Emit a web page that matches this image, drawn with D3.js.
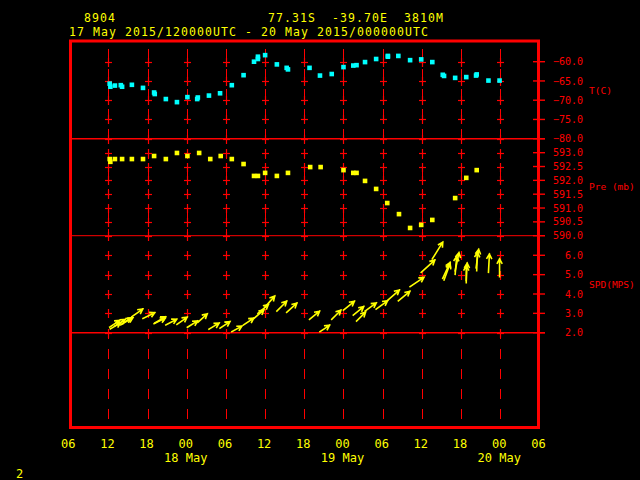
<!DOCTYPE html>
<html><head><meta charset="utf-8">
<script src="https://cdn.jsdelivr.net/npm/d3@7"></script>
<style>html,body{margin:0;padding:0;background:#000;} svg{display:block;}</style>
</head><body>
<svg id="c" width="640" height="480"></svg>
<script>
// ---------- data ----------
const startTime = "2015-05-17T06:00:00Z";
const endTime   = "2015-05-20T06:00:00Z";
const headerStation = "8904";
const headerPosition = "77.31S  -39.70E  3810M";
const headerPeriod = "17 May 2015/120000UTC - 20 May 2015/000000UTC";
const pageNumber = "2";

// hours after 17 May 2015 06 UTC
const tempHours  = [6.2,6.3,7.0,7.9,8.1,9.6,11.3,13.0,13.1,14.8,16.5,18.1,19.6,19.7,21.4,23.1,24.9,26.7,28.3,28.9,28.9,30.0,31.8,33.3,33.5,36.8,38.4,40.2,42.0,43.5,44.0,45.3,47.0,48.8,48.8,50.4,52.2,53.9,55.6,57.2,57.4,59.1,60.8,62.3,62.4,64.2,65.9];
const tempValues = [-65.7,-66.5,-66.2,-66.1,-66.5,-66.0,-66.8,-68.0,-68.4,-69.7,-70.5,-69.2,-69.7,-69.3,-68.8,-68.2,-66.1,-63.5,-60.0,-58.7,-59.3,-58.3,-60.7,-61.6,-62.0,-61.6,-63.6,-63.2,-61.4,-61.0,-60.9,-60.1,-59.3,-58.5,-58.7,-58.5,-59.6,-59.4,-60.1,-63.4,-63.7,-64.2,-64.0,-63.6,-63.3,-64.9,-64.9];

const presHours  = [6.2,6.3,7.0,8.1,9.6,11.3,13.0,14.8,16.5,18.1,19.9,21.6,23.2,24.9,26.7,28.3,28.9,30.0,31.8,33.5,36.9,38.5,42.0,43.5,44.0,45.3,47.0,48.7,50.5,52.2,53.9,55.6,59.1,60.8,62.4];
const presValues = [592.77,592.67,592.77,592.77,592.77,592.77,592.88,592.77,592.99,592.88,592.99,592.77,592.88,592.77,592.59,592.16,592.16,592.27,592.16,592.27,592.48,592.48,592.37,592.27,592.27,591.98,591.69,591.18,590.78,590.28,590.39,590.57,591.36,592.09,592.37];

const windHours = [6.2,6.3,7.0,7.9,8.1,9.6,11.3,13.0,13.1,14.8,16.5,18.1,19.7,21.4,23.1,24.9,26.7,28.3,28.9,30.0,31.8,33.3,36.8,38.4,40.2,42.0,43.5,44.0,45.3,47.0,48.8,50.4,52.2,53.9,55.6,57.2,57.4,59.1,59.1,60.8,60.8,62.4,62.3,64.2,65.9];
const windSpeed = [2.29,2.20,2.35,2.40,2.45,2.83,2.74,2.47,2.50,2.40,2.43,2.28,2.54,2.18,2.23,2.05,2.40,2.74,3.00,3.34,3.12,3.05,2.69,2.05,2.69,3.17,2.91,2.60,3.12,3.22,3.69,3.64,4.38,5.12,5.81,4.81,4.72,5.02,5.20,4.58,4.70,5.20,5.35,5.12,4.89];
const windDir   = [56,60,58,55,60,55,64,64,60,62,55,58,48,59,56,61,56,49,50,42,45,48,51,56,45,51,51,45,54,54,49,50,56,48,32,25,20,5,12,0,3,2,8,3,0];

const tempTicks = [-60,-65,-70,-75,-80];
const presTicks = [593.0,592.5,592.0,591.5,591.0,590.5,590.0];
const spdTicks  = [6,5,4,3,2];
const tempUnit = "T(C)", presUnit = "Pre (mb)", spdUnit = "SPD(MPS)";
const xTickLabels = ["06","12","18","00","06","12","18","00","06","12","18","00","06"];
const dayLabelTimes = ["2015-05-18T00:00:00Z","2015-05-19T00:00:00Z","2015-05-20T00:00:00Z"];
const dayLabelText  = ["18 May","19 May","20 May"];

// ---------- drawing ----------
const RED = "#ff0000", YEL = "#ffff00", CYAN = "#00ffff";
const MONO = "'DejaVu Sans Mono', 'Liberation Mono', monospace";
const svg = d3.select("#c");
svg.append("rect").attr("width",640).attr("height",480).attr("fill","#000");

const t0 = new Date(startTime), t1 = new Date(endTime);
const hrs = h => new Date(t0.getTime() + h*3600e3);
const x = d3.scaleUtc().domain([t0,t1]).range([69.2,539.4]);
const yT = d3.scaleLinear().domain([-80,-55]).range([138.7,42.45]);
const yP = d3.scaleLinear().domain([590,593.5]).range([235.7,138.85]);
const yS = d3.scaleLinear().domain([2,7]).range([332.7,235.95]);

const gridTimes = d3.utcHour.every(6).range(new Date(t0.getTime()+6*3600e3), t1);
const g = svg.append("g");

// dashed vertical grid lines (T + Pre panels, bottom empty panel)
gridTimes.forEach(t => {
  const xx = Math.round(x(t)) + 0.5;
  g.append("line").attr("x1",xx).attr("x2",xx).attr("y1",49).attr("y2",236)
    .attr("stroke",RED).attr("stroke-width",1).attr("stroke-dasharray","10,10");
  g.append("line").attr("x1",xx).attr("x2",xx).attr("y1",329).attr("y2",426)
    .attr("stroke",RED).attr("stroke-width",1).attr("stroke-dasharray","10,10");
});

// crosses
const crossYs = tempTicks.map(yT).concat(presTicks.map(yP), spdTicks.map(yS));
gridTimes.forEach(t => {
  const xx = Math.round(x(t)) + 0.5;
  crossYs.forEach(yy => {
    const y0 = Math.round(yy)+0.5;
    g.append("line").attr("x1",xx-3.5).attr("x2",xx+3.5).attr("y1",y0).attr("y2",y0)
      .attr("stroke",RED).attr("stroke-width",1.2);
    g.append("line").attr("x1",xx).attr("x2",xx).attr("y1",y0-4.5).attr("y2",y0+4.5)
      .attr("stroke",RED).attr("stroke-width",1.2);
  });
});

// panel dividers
[yT(-80), yP(590), yS(2)].forEach((yy,i) => {
  g.append("line").attr("x1",70).attr("x2",545).attr("y1",yy).attr("y2",yy)
    .attr("stroke",RED).attr("stroke-width", i===1 ? 1 : 1.4);
});

// right axes
function rightAxis(scale, ticks, fmt) {
  ticks.forEach(v => {
    const yy = scale(v);
    g.append("line").attr("x1",533).attr("x2",545).attr("y1",yy).attr("y2",yy)
      .attr("stroke",RED).attr("stroke-width",1.4);
    g.append("text").attr("x",583).attr("y",yy+3.6).attr("text-anchor","end")
      .attr("fill",RED).attr("font-family",MONO).attr("font-size",10).text(fmt(v));
  });
}
rightAxis(yT, tempTicks, d3.format(".1f"));
rightAxis(yP, presTicks, d3.format(".1f"));
rightAxis(yS, spdTicks, d3.format(".1f"));
[[tempUnit, 93.5],[presUnit, 190],[spdUnit, 287.5]].forEach(([s,yy]) => {
  g.append("text").attr("x",589).attr("y",yy).attr("fill",RED)
    .attr("font-family",MONO).attr("font-size",9.5).style("white-space","pre").text(s);
});

// frame
g.append("rect").attr("x",70.5).attr("y",41).attr("width",468).attr("height",386.5)
  .attr("fill","none").attr("stroke",RED).attr("stroke-width",3);

// temperature squares
const sz = 4.6;
g.selectAll("rect.t").data(tempHours.map((h,i)=>({t:hrs(h), v:tempValues[i]})))
  .join("rect").attr("class","t")
  .attr("x",d=>x(d.t)-sz/2).attr("y",d=>yT(d.v)-sz/2).attr("width",sz).attr("height",sz)
  .attr("fill",CYAN);

// pressure squares
g.selectAll("rect.p").data(presHours.map((h,i)=>({t:hrs(h), v:presValues[i]})))
  .join("rect").attr("class","p")
  .attr("x",d=>x(d.t)-sz/2).attr("y",d=>yP(d.v)-sz/2).attr("width",sz).attr("height",sz)
  .attr("fill",YEL);

// wind arrows
const lenScale = d3.scaleLinear().domain([2,6]).range([11.4,20.2]);
const windData = windHours.map((h,i)=>({t:hrs(h), s:windSpeed[i], d:windDir[i]}));
const arrowPath = d => {
  const x0 = x(d.t), y0 = yS(d.s), L = lenScale(d.s);
  const a = d.d*Math.PI/180;
  const x1 = x0 + L*Math.sin(a), y1 = y0 - L*Math.cos(a);
  const back = a + Math.PI, w = 0.5, h = 4.8;
  const ax = x1 + h*Math.sin(back - w), ay = y1 - h*Math.cos(back - w);
  const bx = x1 + h*Math.sin(back + w), by = y1 - h*Math.cos(back + w);
  return `M${x0},${y0}L${x1},${y1}M${ax},${ay}L${x1},${y1}L${bx},${by}`;
};
g.selectAll("path.w").data(windData).join("path").attr("class","w")
  .attr("d",arrowPath).attr("fill","none").attr("stroke",YEL).attr("stroke-width",1.6)
  .attr("stroke-linecap","square");

// x labels
const xLabelTimes = d3.utcHour.every(6).range(t0, new Date(t1.getTime()+1));
xLabelTimes.forEach((t,i) => {
  g.append("text").attr("x",x(t)-1).attr("y",447.7).attr("text-anchor","middle")
    .attr("fill",YEL).attr("font-family",MONO).attr("font-size",12).text(xTickLabels[i]);
});
dayLabelTimes.forEach((s,i) => {
  g.append("text").attr("x",x(new Date(s))-1).attr("y",461.7).attr("text-anchor","middle")
    .attr("fill",YEL).attr("font-family",MONO).attr("font-size",12).text(dayLabelText[i]);
});

// header
g.append("text").attr("x",84).attr("y",22.3).attr("fill",YEL).attr("font-family",MONO)
  .attr("font-size",11.5).attr("textLength",31).attr("lengthAdjust","spacing").text(headerStation);
g.append("text").attr("x",268).attr("y",22.3).attr("fill",YEL).attr("font-family",MONO)
  .attr("font-size",11.5).style("white-space","pre").attr("textLength",175).attr("lengthAdjust","spacing").text(headerPosition);
g.append("text").attr("x",69).attr("y",36.2).attr("fill",YEL).attr("font-family",MONO)
  .attr("font-size",11.5).style("white-space","pre").attr("textLength",359).attr("lengthAdjust","spacing").text(headerPeriod);
g.append("text").attr("x",16).attr("y",477.7).attr("fill",YEL).attr("font-family",MONO)
  .attr("font-size",12).text(pageNumber);
</script>
</body></html>
